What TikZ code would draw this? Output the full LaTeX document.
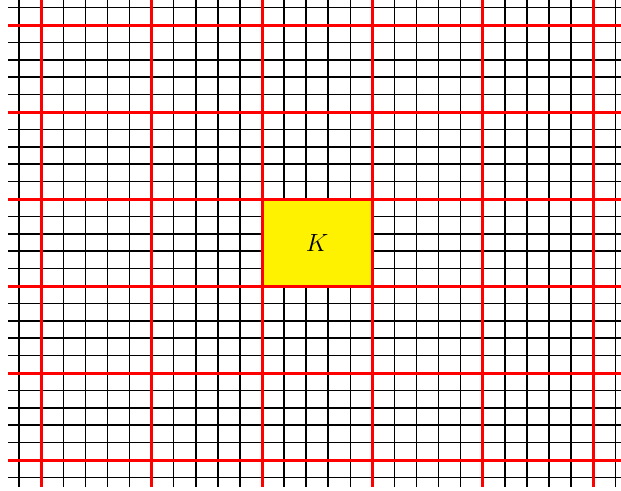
\documentclass[tikz,border=0pt]{standalone}
\begin{document}
\begin{tikzpicture}[x=1pt,y=-1pt,
  minorline/.style={black,line width=1.5pt},
  majorline/.style={red,line width=3pt},
  kbox/.style={fill=yellow,draw=none}]
\useasboundingbox (0,0) rectangle (621,490);
\foreach \i in {-1,...,26}
  \draw[minorline] ({41.2+22.08*\i},-2) -- ({41.2+22.08*\i},487);
\foreach \j in {-1,...,26}
  \draw[minorline] (8,{25+17.4*\j}) -- (623,{25+17.4*\j});
\fill[kbox] (262,199) rectangle (372.4,286);
\foreach \i in {0,...,5}
  \draw[majorline] ({41.2+110.4*\i},-2) -- ({41.2+110.4*\i},487);
\foreach \j in {0,...,5}
  \draw[majorline] (8,{25+87*\j}) -- (623,{25+87*\j});
\node (K) at (317.2,243) {\fontsize{27}{32}\selectfont $K$};
\end{tikzpicture}
\end{document}
